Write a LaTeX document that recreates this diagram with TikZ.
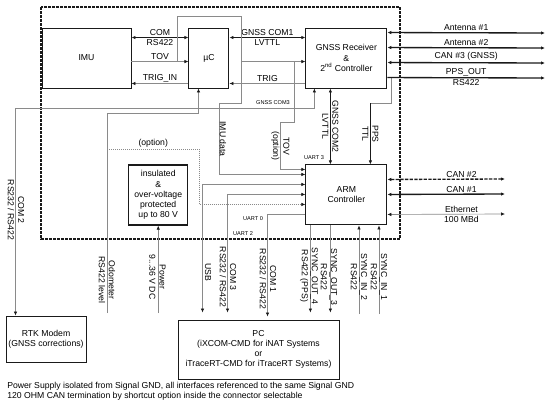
\documentclass[tikz,border=0pt]{standalone}
\usepackage{fontspec}
\setmainfont{Liberation Sans}
\usepackage{tikz}
\usetikzlibrary{arrows.meta, positioning, calc}
\definecolor{cgris}{HTML}{8A8A8A}
\definecolor{cnegro}{HTML}{1A1A1A}
\newcommand{\fuente}{\fontsize{6.5}{7.6}\selectfont}
\tikzset{
  bloque/.style={rectangle, draw=cnegro, line width=0.7pt, minimum height=45pt,
                 inner sep=1pt, align=center, font=\fuente},
  bus/.style={draw=cnegro, line width=1pt},
  senal/.style={draw=cgris, line width=0.5pt},
  opcion/.style={draw=cgris, line width=0.5pt, dash pattern=on 0.6pt off 0.9pt},
  etiq/.style={font=\fuente, inner sep=1pt},
  vetiq/.style={font=\fuente, rotate=-90, align=center, inner sep=0pt},
  mini/.style={font=\fontsize{4.2}{5}\selectfont, inner sep=0pt},
  marco/.style={draw=cnegro, line width=0.9pt, dash pattern=on 2pt off 1pt},
}

\begin{document}
\begin{tikzpicture}[x=0.75pt, y=-0.75pt, >={Latex[length=3pt,width=2.6pt,color=cnegro]}]
  \useasboundingbox (0,0) rectangle (550,407);
  \draw[marco] (41,7) rectangle (400,239);

  % bloques
  \node[bloque, minimum width=66.75pt] (imu) at (86.5,58) {IMU};
  \node[bloque, minimum width=30pt, right=42.75pt of imu] (uc) {µC};
  \node[bloque, minimum width=60.75pt, right=57pt of uc] (gnss) {GNSS Receiver\\\&\\2\textsuperscript{nd} Controller};
  \node[bloque, minimum width=60.75pt, below=57pt of gnss] (arm) {ARM\\Controller};
  \node[bloque, line width=1pt, minimum width=44.25pt, left=87.75pt of arm] (ins) {insulated\\\&\\over-voltage\\protected\\up to 80 V};
  \node[bloque, minimum width=60pt, minimum height=34.5pt] (rtk) at (46,339) {RTK Modem\\(GNSS corrections)};
  \node[bloque, minimum width=120.75pt, minimum height=44.25pt] (pc) at (258.5,349.5) {PC\\(iXCOM-CMD for iNAT Systems\\or\\iTraceRT-CMD for iTraceRT Systems)};

  % IMU - uC
  \draw[bus,<->] ($(imu.north east)+(0,10)$) -- ($(uc.north west)+(0,10)$)
    node[etiq, midway, above] (lcom) {COM} node[etiq, midway, below] (lrs) {RS422};
  \draw[senal,->] ($(imu.north east)+(0,34)$) -- ($(uc.north west)+(0,34)$)
    node[etiq, midway, above] (ltov) {TOV};
  \draw[senal,->] ($(uc.south west)+(0,-5)$) -- ($(imu.south east)+(0,-5)$)
    node[etiq, midway, above] (ltrigin) {TRIG\_IN};

  % uC - GNSS
  \draw[bus,<->] ($(uc.north east)+(0,10)$) -- ($(gnss.north west)+(0,10)$)
    node[etiq, midway, above] (lcom1) {GNSS COM1} node[etiq, midway, below] (llvttl) {LVTTL};
  \draw[senal,->] ($(gnss.south west)+(0,-5)$) -- ($(uc.south east)+(0,-5)$)
    node[etiq, midway, above] (ltrig) {TRIG};
  \draw[senal,->] ($(uc.north east)+(12,34)$) -- ($(gnss.north west)+(0,34)$);

  % IMU data
  \draw[senal,->] ($(imu.north east)+(46,34)$) -- ++(0,-45) -| ($(uc.south east)+(12,15)$)
    -- ++(-22,0) |- ($(arm.north west)+(0,10)$);
  \node[vetiq] (limu) at (223,139) {IMU data};

  % TOV (option)
  \draw[senal,->] ($(gnss.north west)+(-11,34)$) -- ++(0,61) -- ++(-14,0) |- ($(arm.north west)+(0,5)$)
    node[vetiq, pos=0.25] (ltovop) {TOV\\(option)};

  % GNSS COM3 / COM 2
  \draw[senal,<->] ($(rtk.north west)+(10,0)$) |- ($(gnss.south west)+(9,20)$) -- ($(gnss.south west)+(9,0)$);
  \node[mini] (lgcom3) at (273,103) {GNSS COM3};
  \node[vetiq] (lcom2) at (16,210) {COM 2\\RS232 / RS422};

  % odometer, option, power
  \coordinate (odo) at (107,313);
  \draw[senal,->] (odo) |- ($(uc.south west)+(10,25)$) -- ($(uc.south west)+(10,0)$);
  \node[vetiq] (lodo) at (107,280) {Odometer\\RS422 level};
  \draw[opcion,->] ($(odo)+(0,-164)$) -| ($(arm.north west)+(-106,40)$)
    node[etiq, pos=0.25, above] (lopc) {(option)} -- ($(arm.north west)+(0,40)$);
  \coordinate (pwr) at (ins.south |- odo);
  \draw[senal,->] (pwr) -- (ins.south);
  \node[vetiq] (lpwr) at (157.5,277) {Power\\9...36 V DC};

  % ARM - PC
  \draw[senal,<->] ($(pc.north west)+(25,-7)$) |- ($(arm.north west)+(0,20)$);
  \node[vetiq] (lusb) at (208,272) {USB};
  \draw[senal,<->] ($(pc.north west)+(50,-7)$) |- ($(arm.north west)+(0,30)$);
  \node[vetiq] (lcom3) at (228,277) {COM 3\\RS232 / RS422};
  \draw[senal,->] ($(arm.north west)+(0,50)$) -| ($(pc.north west)+(90,-3)$);
  \node[vetiq] (lcom1b) at (268,279) {COM 1\\RS232 / RS422};
  \node[mini] (luart0) at (253,219) {UART 0};
  \node[mini] (luart2) at (243,234) {UART 2};
  \node[mini] (luart3) at (314,158) {UART 3};

  % sync
  \draw[senal,->] ($(arm.south west)+(5,0)$) -- ($(arm.south west |- pc.north)+(5,-7)$);
  \node[vetiq] (lso4) at (309,276) {SYNC\_OUT\_4\\RS422 (PPS)};
  \draw[senal,->] ($(arm.south west)+(25,0)$) -- ($(arm.south west |- pc.north)+(25,-7)$);
  \node[vetiq] (lso3) at (329,277) {SYNC\_OUT\_3\\RS422};
  \coordinate (si2) at (359,314);
  \coordinate (si1) at (379,314);
  \draw[senal,->] (si2) -- (si2 |- arm.south);
  \node[vetiq] (lsi2) at (359,277) {SYNC\_IN\_2\\RS422};
  \draw[senal,->] (si1) -- (si1 |- arm.south);
  \node[vetiq] (lsi1) at (379,277) {SYNC\_IN\_1\\RS422};

  % GNSS - ARM
  \draw[bus,<->] ($(gnss.south west)+(25,0)$) -- ($(arm.north west)+(25,0)$)
    node[vetiq, midway] (lcom2g) {GNSS COM2\\LVTTL};
  \draw[senal] ($(gnss.south east)+(4,-10)$) |- ($(arm.north west)+(65,-61)$);
  \draw[bus,->] ($(arm.north west)+(65,-61)$) -- ($(arm.north west)+(65,0)$)
    node[vetiq, midway] (lpps) {PPS\\TTL};

  % salidas GNSS
  \coordinate (ant1) at (545,33);
  \coordinate (ant2) at (545,48);
  \coordinate (can3) at (545,63);
  \coordinate (ppso) at (545,78);
  \draw[bus,<->] ($(gnss.north east)+(0,5)$) -- (ant1) node[etiq, midway, above] (lant1) {Antenna \#1};
  \draw[bus,<->] ($(gnss.north east)+(0,20)$) -- (ant2) node[etiq, midway, above] (lant2) {Antenna \#2};
  \draw[bus,<->] ($(gnss.north east)+(0,35)$) -- (can3) node[etiq, midway, above] (lcan3) {CAN \#3 (GNSS)};
  \draw[bus,->] ($(gnss.north east)+(0,50)$) -- (ppso)
    node[etiq, midway, above] (lppso) {PPS\_OUT} node[etiq, midway, below] (lppsr) {RS422};

  % salidas ARM
  \coordinate (can2) at (505,179);
  \coordinate (can1) at (505,194);
  \coordinate (eth) at (505,214);
  \draw[bus,<->, dash pattern=on 2.5pt off 1pt] ($(arm.north east)+(0,15)$) -- (can2)
    node[etiq, pos=0.63, above] (lcan2) {CAN \#2};
  \draw[bus,<->] ($(arm.north east)+(0,30)$) -- (can1) node[etiq, pos=0.63, above] (lcan1) {CAN \#1};
  \draw[senal,<->] ($(arm.north east)+(0,50)$) -- (eth)
    node[etiq, pos=0.63, above] (leth) {Ethernet} node[etiq, pos=0.63, below] (lmbd) {100 MBd};

  % notas
  \node[etiq, anchor=west, inner sep=0pt] (nota1) at (7,386) {Power Supply isolated from Signal GND, all interfaces referenced to the same Signal GND};
  \node[etiq, anchor=west, inner sep=0pt] (nota2) at (7,396) {120 OHM CAN termination by shortcut option inside the connector selectable};
\end{tikzpicture}
\end{document}
